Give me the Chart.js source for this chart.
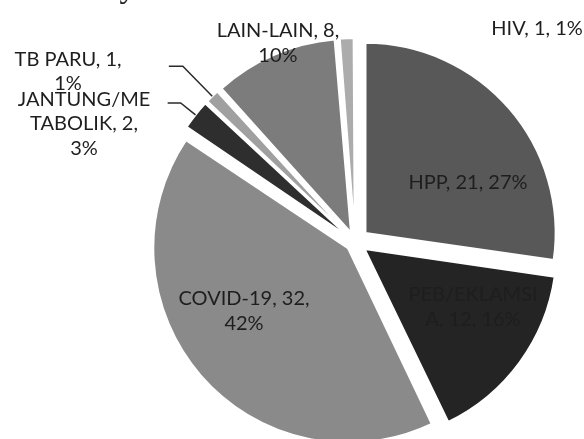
<!DOCTYPE html>
<html lang="id">
<head>
<meta charset="utf-8">
<title>Penyebab Kematian Ibu</title>
<script src="https://cdn.jsdelivr.net/npm/chart.js@4.4.1/dist/chart.umd.min.js"></script>
<style>
  html, body { margin: 0; padding: 0; background: #fff; overflow: hidden; }
  #bingkai { position: relative; width: 584px; height: 439px; overflow: hidden; }
  canvas { display: block; }
  /* judul terpotong di tepi atas seperti pada gambar */
  #judul {
    position: absolute; left: 70px; top: -30px;
    font: 33px/33px "Liberation Serif", serif; color: #222; white-space: nowrap;
  }
</style>
</head>
<body>
<div id="bingkai">
  <canvas id="grafik" width="584" height="439"></canvas>
  <div id="judul">Penyebab Kematian Ibu Tahun 2021</div>
</div>
<script>
// Data penyebab kematian ibu
const kategori = ["HPP", "PEB/EKLAMSIA", "COVID-19", "JANTUNG/METABOLIK", "TB PARU", "LAIN-LAIN", "HIV"];
const jumlah = [21, 12, 32, 2, 1, 8, 1];
const warna = ["#585858", "#242424", "#8a8a8a", "#2e2e2e", "#a0a0a0", "#7c7c7c", "#acacac"];

const total = jumlah.reduce((a, b) => a + b, 0);
const persen = jumlah.map(v => Math.round(v / total * 100));

const LEDAK = 14;          // jarak potongan keluar dari pusat (px)
const TINGGI_BARIS = 24.5; // jarak antar baris label

// letak label: f = jarak dari pusat (kali jari-jari), sudut = geser dari sudut tengah potongan (derajat)
// lebar = lebar maksimum teks sebelum dibungkus, garis = [panjang, mendatar] garis penunjuk
const letakLabel = [
    { f: 0.673, sudut: 13, lebar: 150 },
    { f: 0.709, sudut: -7.4, lebar: 133 },
    { f: 0.688, sudut: 9, lebar: 140 },
    { f: 1.556, sudut: -15, lebar: 133, garis: [19, 13] },
    { f: 1.756, sudut: -14.9, lebar: 118, garis: [42, 14] },
    { f: 1.123, sudut: 2.2, lebar: 130 },
    { f: 1.475, sudut: 42.85, lebar: 150 }
];

// offset chart.js tergantung besar potongan, jadi dihitung supaya pergeserannya sama rata
function offsetPotongan(c) {
    const busur = 2 * Math.PI * jumlah[c.dataIndex] / total;
    const fix = 1 - Math.sin(Math.min(Math.PI, busur));
    return 4 * LEDAK / (1 + fix);
}

// bungkus teks seperti excel: per kata, kata yang terlalu panjang dipotong per huruf
function bungkus(ctx, teks, maks) {
    const baris = [];
    let cur = "";
    teks.split(" ").forEach(k => {
        const coba = cur ? cur + " " + k : k;
        if (ctx.measureText(coba).width <= maks) { cur = coba; return; }
        if (cur && ctx.measureText(k).width <= maks) { baris.push(cur); cur = k; return; }
        if (cur) baris.push(cur);
        cur = "";
        for (const h of k) {
            if (cur && ctx.measureText(cur + h).width > maks) { baris.push(cur); cur = h; }
            else cur += h;
        }
    });
    if (cur) baris.push(cur);
    return baris;
}

const labelPie = {
    id: "labelPie",
    afterDatasetsDraw(chart) {
        const ctx = chart.ctx;
        const arcs = chart.getDatasetMeta(0).data;
        ctx.save();
        ctx.font = "20px Lato";
        ctx.fillStyle = "#1e1e1e";
        ctx.strokeStyle = "#2a2a2a";
        ctx.lineWidth = 1.5;
        ctx.textAlign = "center";
        ctx.textBaseline = "middle";
        arcs.forEach((arc, i) => {
            const p = arc.getProps(["x", "y", "startAngle", "endAngle", "outerRadius"], true);
            const tengah = (p.startAngle + p.endAngle) / 2;
            const ux = Math.cos(tengah), uy = Math.sin(tengah);
            const l = letakLabel[i];

            if (l.garis) {
                const x0 = p.x + (p.outerRadius + LEDAK) * ux;
                const y0 = p.y + (p.outerRadius + LEDAK) * uy;
                const x1 = x0 + l.garis[0] * ux;
                const y1 = y0 + l.garis[0] * uy;
                ctx.beginPath();
                ctx.moveTo(x0, y0);
                ctx.lineTo(x1, y1);
                ctx.lineTo(x1 - l.garis[1], y1);
                ctx.stroke();
            }

            const a = tengah + l.sudut * Math.PI / 180;
            const lx = p.x + l.f * p.outerRadius * Math.cos(a);
            const ly = p.y + l.f * p.outerRadius * Math.sin(a);
            const baris = bungkus(ctx, `${kategori[i]}, ${jumlah[i]}, ${persen[i]}%`, l.lebar);
            baris.forEach((b, k) => {
                ctx.fillText(b, lx, ly + (k - (baris.length - 1) / 2) * TINGGI_BARIS);
            });
        });
        ctx.restore();
    }
};

function buatGrafik() {
    new Chart(document.getElementById("grafik"), {
        type: "pie",
        data: {
            labels: kategori,
            datasets: [{
                data: jumlah,
                backgroundColor: warna,
                borderColor: "#ffffff",
                borderWidth: 2,
                radius: 190,
                offset: offsetPotongan
            }]
        },
        options: {
            responsive: false,
            animation: false,
            events: [],
            layout: { padding: { left: 126, right: 0, top: 45, bottom: 0 } },
            plugins: {
                legend: { display: false },
                tooltip: { enabled: false }
            }
        },
        plugins: [labelPie]
    });
}

document.fonts.load("20px Lato").then(buatGrafik, buatGrafik);
</script>
</body>
</html>
